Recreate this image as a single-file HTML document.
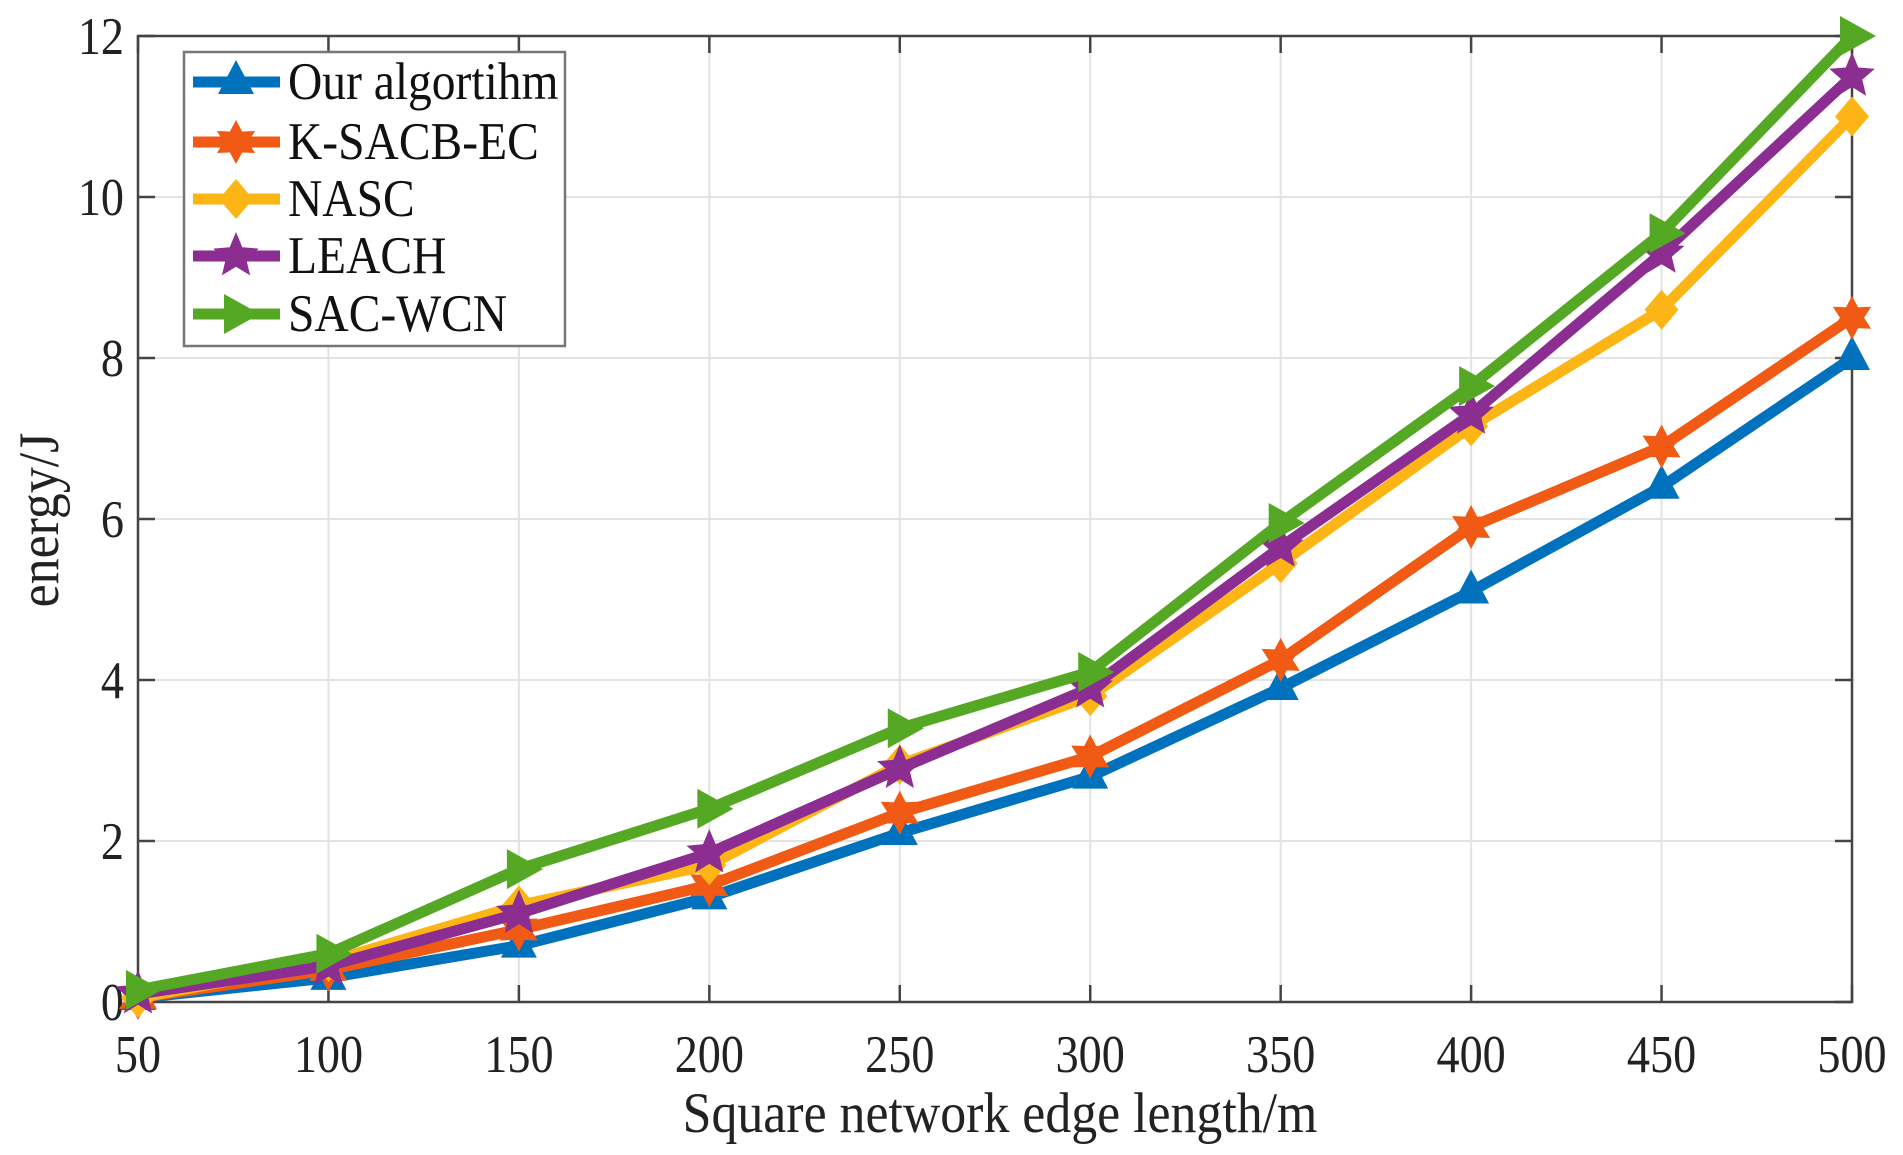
<!DOCTYPE html>
<html><head><meta charset="utf-8"><style>
html,body{margin:0;padding:0;background:#fff;}
svg{display:block;font-family:"Liberation Serif",serif;}
</style></head><body>
<svg id="chart" width="1903" height="1155" xmlns="http://www.w3.org/2000/svg"></svg>
<script>
const categories=[50,100,150,200,250,300,350,400,450,500];
const yTicks=[0,2,4,6,8,10,12];
const seriesNames=["Our algortihm","K-SACB-EC","NASC","LEACH","SAC-WCN"];
const ourValues=[0.05,0.3,0.7,1.3,2.1,2.8,3.9,5.1,6.4,8.0];
const ksacbValues=[0.05,0.4,0.9,1.45,2.35,3.05,4.25,5.9,6.9,8.5];
const nascValues=[0.05,0.5,1.2,1.7,2.95,3.8,5.45,7.15,8.6,11.0];
const leachValues=[0.1,0.45,1.1,1.85,2.9,3.9,5.65,7.3,9.3,11.5];
const sacValues=[0.15,0.6,1.65,2.4,3.4,4.1,5.95,7.65,9.55,12.0];

const NS="http://www.w3.org/2000/svg";
const svg=document.getElementById('chart');
const L=138,R=1852,T=36,B=1002;
const xs=v=>L+(v-50)/(450)*(R-L);
const ys=v=>B-v/12*(B-T);
function mk(tag,attrs,parent){const e=document.createElementNS(NS,tag);for(const k in attrs)e.setAttribute(k,attrs[k]);(parent||svg).appendChild(e);return e;}

categories.forEach(c=>{const g=mk('line',{x1:xs(c),x2:xs(c),y1:T,y2:B,stroke:'#e3e3e3','stroke-width':2});

});
yTicks.forEach(t=>{const g=mk('line',{x1:L,x2:R,y1:ys(t),y2:ys(t),stroke:'#e3e3e3','stroke-width':2});

});
const box=mk('rect',{x:L,y:T,width:R-L,height:B-T,fill:'none',stroke:'#444','stroke-width':2.5});


categories.forEach(c=>{
 mk('line',{x1:xs(c),x2:xs(c),y1:B,y2:B-17,stroke:'#444','stroke-width':2.5});
 mk('line',{x1:xs(c),x2:xs(c),y1:T,y2:T+17,stroke:'#444','stroke-width':2.5});
 const t=mk('text',{x:0,y:0,'font-size':44,'text-anchor':'middle',fill:'#222',transform:`translate(${xs(c)},1072) scale(1.05,1.2)`});t.textContent=c;
 
 
});
yTicks.forEach(v=>{
 mk('line',{x1:L,x2:L+17,y1:ys(v),y2:ys(v),stroke:'#444','stroke-width':2.5});
 mk('line',{x1:R,x2:R-17,y1:ys(v),y2:ys(v),stroke:'#444','stroke-width':2.5});
 const t=mk('text',{x:0,y:0,'font-size':44,'text-anchor':'end',fill:'#222',transform:`translate(${L-14},${ys(v)+18}) scale(1.05,1.2)`});t.textContent=v;
 
 
});
const xl=mk('text',{x:0,y:0,'font-size':48,'text-anchor':'middle',fill:'#222',transform:'translate(1000,1132) scale(1.08,1.2)'});xl.textContent='Square network edge length/m';


const yl=mk('text',{x:0,y:0,'font-size':48,'text-anchor':'middle',fill:'#222',transform:'translate(58,520) rotate(-90) scale(1.08,1.2)'});yl.textContent='energy/J';



function star(cx,cy,r){let p=[];for(let i=0;i<10;i++){const a=-Math.PI/2+i*Math.PI/5;const rr=i%2?r*0.45:r;p.push((cx+rr*Math.cos(a)).toFixed(1)+','+(cy+rr*Math.sin(a)).toFixed(1));}return p.join(' ');}
function hex(cx,cy,r){let p=[];for(let i=0;i<12;i++){const a=-Math.PI/2+i*Math.PI/6;const rr=i%2?r*0.55:r;p.push((cx+rr*Math.cos(a)).toFixed(1)+','+(cy+rr*Math.sin(a)).toFixed(1));}return p.join(' ');}
function marker(type,cx,cy,color,parent){
 let pts;
 if(type==='tri')pts=`${cx},${cy-22} ${cx+18},${cy+12} ${cx-18},${cy+12}`;
 else if(type==='hex')pts=hex(cx,cy,22);
 else if(type==='dia')pts=`${cx},${cy-20} ${cx+17},${cy} ${cx},${cy+20} ${cx-17},${cy}`;
 else if(type==='star')pts=star(cx,cy,24);
 else pts=`${cx+24},${cy} ${cx-12},${cy-20} ${cx-12},${cy+20}`;
 return mk('polygon',{points:pts,fill:color},parent);
}
const series=[[ourValues,'#0072BD','tri'],[ksacbValues,'#F05A14','hex'],[nascValues,'#FDB515','dia'],[leachValues,'#8B2D91','star'],[sacValues,'#55A823','right']];
series.forEach((s,i)=>{
 const g=mk('g',{});
 
 
 const pts=s[0].map((v,j)=>xs(categories[j])+','+ys(v)).join(' ');
 mk('polyline',{points:pts,fill:'none',stroke:s[1],'stroke-width':11,'stroke-linejoin':'round'},g);
 s[0].forEach((v,j)=>{const m=marker(s[2],xs(categories[j]),ys(v),s[1],g);
  
  });
});
const lg=mk('g',{});


mk('rect',{x:184,y:52,width:381,height:294,fill:'#fff',stroke:'#777','stroke-width':2.5},lg);
const ly=[82,142,199,256,314];
series.forEach((s,i)=>{
 const e=mk('g',{},lg);
 
 
 mk('line',{x1:193,x2:280,y1:ly[i],y2:ly[i],stroke:s[1],'stroke-width':11},e);
 marker(s[2],236,ly[i],s[1],e);
 const t=mk('text',{x:0,y:0,'font-size':44,fill:'#111',transform:`translate(288,${ly[i]+17}) scale(1.08,1.2)`},e);t.textContent=seriesNames[i];
});
</script>
</body></html>
